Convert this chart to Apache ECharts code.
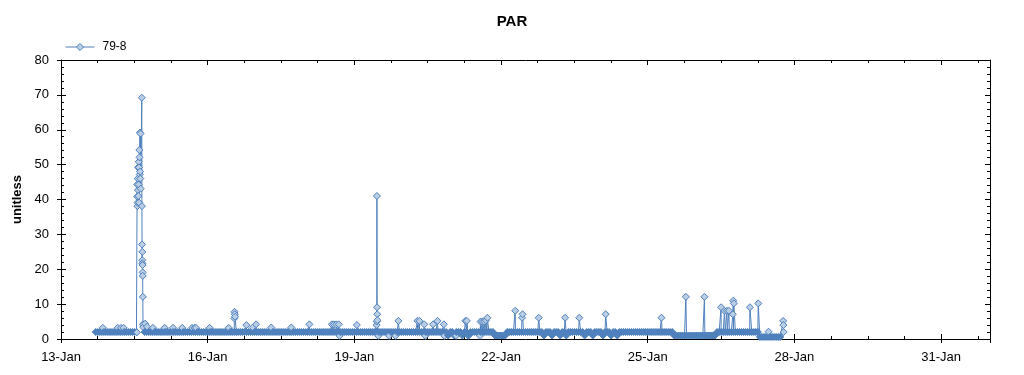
<!DOCTYPE html>
<html><head><meta charset="utf-8">
<script src="https://cdn.jsdelivr.net/npm/echarts@6/dist/echarts.min.js"></script>
<style>html,body{margin:0;padding:0;background:#fff}#c{width:1024px;height:375px}</style>
</head><body><div id="c"></div>
<script>
// ---- data (x in days since 13-Jan 00:00) ----
const TITLE = 'PAR';
const SERIES_NAME = '79-8';
const Y_NAME = 'unitless';
const X_TICK_LABELS = ['13-Jan','16-Jan','19-Jan','22-Jan','25-Jan','28-Jan','31-Jan'];
const X_MIN = 0, X_MAX = 19, X_MAJOR = 3, X_MINOR = 0.75;
const Y_MIN = 0, Y_MAX = 80, Y_MAJOR = 10;

// hourly baseline readings, starting at day 0.71
const BASE_START = 0.71;
const BASE_STEP = 1 / 24;
const BASE_VALUES = [
  2,2,2,2,2,2,2,2,2,2,2,2,2,2,2,2,2,2,2,2,2,null,null,null,
  2,2,2,2,2,2,2,2,2,2,2,2,2,2,2,2,2,2,2,2,2,2,2,2,
  2,2,2,2,2,2,2,2,2,2,2,2,2,2,2,2,2,2,2,2,2,2,2,2,
  2,2,2,2,2,2,2,2,2,2,2,2,2,2,2,2,2,2,2,2,2,2,2,2,
  2,2,2,2,2,2,2,2,2,2,2,2,2,2,2,2,2,2,2,2,2,2,2,2,
  2,2,2,2,2,2,2,2,2,2,2,2,2,2,2,2,2,2,2,2,2,2,2,2,
  2,2,2,2,2,2,2,2,2,2,2,2,2,2,2,2,2,2,2,2,2,2,2,2,
  2,2,2,2,2,1,2,2,1,2,2,2,1,2,2,1,2,2,2,2,2,2,2,2,
  2,2,2,2,1,1,1,1,1,1,2,2,2,2,2,2,2,2,2,2,2,2,2,2,
  2,2,2,2,1,2,2,2,1,2,2,2,1,2,2,1,2,2,2,2,2,2,2,2,
  1,2,2,2,1,2,2,2,2,1,2,2,2,1,2,2,1,2,2,2,2,2,2,2,
  2,2,2,2,2,2,2,2,2,2,2,2,2,2,2,2,2,2,2,2,1,1,1,1,
  1,1,1,1,1,1,1,1,1,1,1,1,1,1,1,1,1,2,2,2,2,2,2,2,
  2,2,2,2,2,2,2,2,2,2,2,2,2,2,0.6,0.6,0.6,0.6,0.6,0.6,0.6,0.6,0.6,0.6,
  0.6
];

// the burst on 14-Jan, [day, value]
const PEAK_14JAN = [
  [1.553,1.9],[1.556,40.8],[1.559,44.3],[1.562,38.1],[1.566,39.1],[1.570,46.0],
  [1.574,42.7],[1.578,49.2],[1.582,41.0],[1.586,44.3],[1.590,50.8],[1.594,49.2],
  [1.598,39.1],[1.602,54.2],[1.606,52.1],[1.610,47.2],[1.614,59.2],[1.618,48.0],
  [1.622,46.0],[1.626,58.9],[1.630,43.1],[1.652,69.2],[1.655,38.1],[1.658,27.1],
  [1.661,22.6],[1.663,25.0],[1.665,21.7],[1.667,21.2],[1.669,19.1],[1.671,18.1],
  [1.673,12.1],[1.677,4.2],[1.681,3.4]
];

// isolated readings off the baseline, [day, value]
const EXCURSIONS = [
  [0.855,3.2],[1.16,3.2],[1.23,3.2],[1.28,3.2],
  [1.72,4.4],[1.76,3.5],[1.88,3.2],[2.12,3.2],[2.29,3.2],[2.48,3.2],[2.68,3.2],[2.73,3.2],[2.76,3.2],
  [3.04,3.2],[3.43,3.2],[3.545,5.9],[3.55,7.8],[3.555,7.1],[3.56,6.4],
  [3.79,4.0],[3.92,3.3],[3.99,4.2],[4.30,3.3],[4.71,3.3],[5.08,4.2],
  [5.54,4.2],[5.58,4.2],[5.63,4.2],[5.68,4.2],[5.70,0.9],[6.05,4.0],
  [6.455,4.0],[6.458,5.0],[6.461,41.0],[6.464,9.1],[6.467,7.1],[6.470,5.4],
  [6.49,0.9],[6.71,0.9],[6.84,0.9],[6.90,5.2],[7.29,5.2],[7.33,5.2],[7.43,4.2],[7.45,0.9],
  [7.61,4.2],[7.70,5.2],[7.83,4.2],[7.84,0.9],[8.08,0.9],[8.27,5.2],[8.30,5.2],[8.33,0.9],
  [8.57,0.9],[8.58,5.0],[8.62,5.0],[8.66,5.0],[8.69,5.4],[8.72,6.1],
  [9.29,8.1],[9.43,6.1],[9.44,7.1],[9.77,6.1],[10.31,6.1],[10.60,6.1],[11.14,7.1],
  [12.28,6.1],[12.78,12.1],[13.16,12.1],
  [13.50,9.1],[13.57,8.1],[13.62,8.1],[13.66,8.1],[13.74,7.1],[13.75,11.0],[13.76,10.2],
  [14.09,9.1],[14.26,10.2],[14.47,2.1],
  [14.77,5.2],[14.775,4.0],[14.78,2.0]
];

// ---- style constants ----
const FONT = "'Liberation Sans', Arial, sans-serif";
const LINE = '#4f81bd';
const FILL = '#b9cde5';
const black = { color: '#000', width: 1 };

// ---- build series data (dense baseline readings render as a solid band) ----
const points = [];
BASE_VALUES.forEach((v, i) => {
  if (v !== null) points.push({ value: [BASE_START + i * BASE_STEP, v], itemStyle: { color: LINE } });
});
PEAK_14JAN.forEach(p => points.push({ value: p }));
EXCURSIONS.forEach(p => points.push({ value: p }));
points.sort((a, b) => a.value[0] - b.value[0]);

function xAx(position, interval, tickInside, tickLen, showLine, showLabel) {
  return {
    type: 'value', position, min: X_MIN, max: X_MAX, interval,
    axisLine: { show: showLine, onZero: false, lineStyle: black },
    axisTick: { show: true, inside: tickInside, length: tickLen, lineStyle: black },
    axisLabel: showLabel ? {
      show: true, color: '#000', fontFamily: FONT, fontSize: 13, margin: 12,
      formatter: v => { const k = Math.round(v / X_MAJOR); return (Math.abs(v - k * X_MAJOR) < 1e-6 && X_TICK_LABELS[k]) ? X_TICK_LABELS[k] : ''; }
    } : { show: false },
    splitLine: { show: false }
  };
}
function yAx(position, tickInside, tickLen, showLine, showLabel, minor) {
  return {
    type: 'value', position, min: Y_MIN, max: Y_MAX, interval: Y_MAJOR,
    axisLine: { show: showLine, onZero: false, lineStyle: black },
    axisTick: { show: true, inside: tickInside, length: tickLen, lineStyle: black },
    axisLabel: showLabel ? { show: true, color: '#000', fontFamily: FONT, fontSize: 13, margin: 12 } : { show: false },
    splitLine: { show: false },
    minorTick: minor ? { show: true, splitNumber: 5, length: 3, lineStyle: black } : { show: false }
  };
}

const yMain = yAx('left', false, 4, true, true, false);
yMain.name = Y_NAME;
yMain.nameLocation = 'middle';
yMain.nameGap = 34;
yMain.nameTextStyle = { color: '#000', fontFamily: FONT, fontSize: 13, fontWeight: 'bold' };

const chart = echarts.init(document.getElementById('c'), null, { renderer: 'canvas' });
chart.setOption({
  animation: false,
  backgroundColor: '#fff',
  title: {
    text: TITLE, left: 'center', top: 9,
    textStyle: { color: '#000', fontFamily: FONT, fontSize: 15, fontWeight: 'bold' }
  },
  legend: {
    left: 65, top: 41, padding: 0, itemWidth: 29, itemHeight: 9, itemGap: 10,
    data: [SERIES_NAME],
    itemStyle: { color: FILL, borderColor: LINE, borderWidth: 1 },
    lineStyle: { color: LINE, width: 1 },
    textStyle: { color: '#000', fontFamily: FONT, fontSize: 12, padding: [0, 0, 0, 3] }
  },
  grid: { left: 61, right: 34, top: 60, bottom: 36, containLabel: false },
  xAxis: [
    xAx('bottom', X_MAJOR, false, 4, true, true),
    xAx('bottom', X_MAJOR, true, 5, false, false),
    xAx('bottom', X_MINOR, true, 3, false, false),
    xAx('top', X_MAJOR, true, 5, true, false),
    xAx('top', X_MINOR, true, 3, false, false)
  ],
  yAxis: [
    yMain,
    yAx('left', true, 5, false, false, true),
    yAx('right', true, 5, true, false, true)
  ],
  series: [{
    name: SERIES_NAME, type: 'line', xAxisIndex: 0, yAxisIndex: 0,
    data: points,
    symbol: 'diamond', symbolSize: 7, showSymbol: true, showAllSymbol: true,
    lineStyle: { color: LINE, width: 1 },
    itemStyle: { color: FILL, borderColor: LINE, borderWidth: 1 },
    emphasis: { disabled: true }
  }]
});
</script></body></html>
